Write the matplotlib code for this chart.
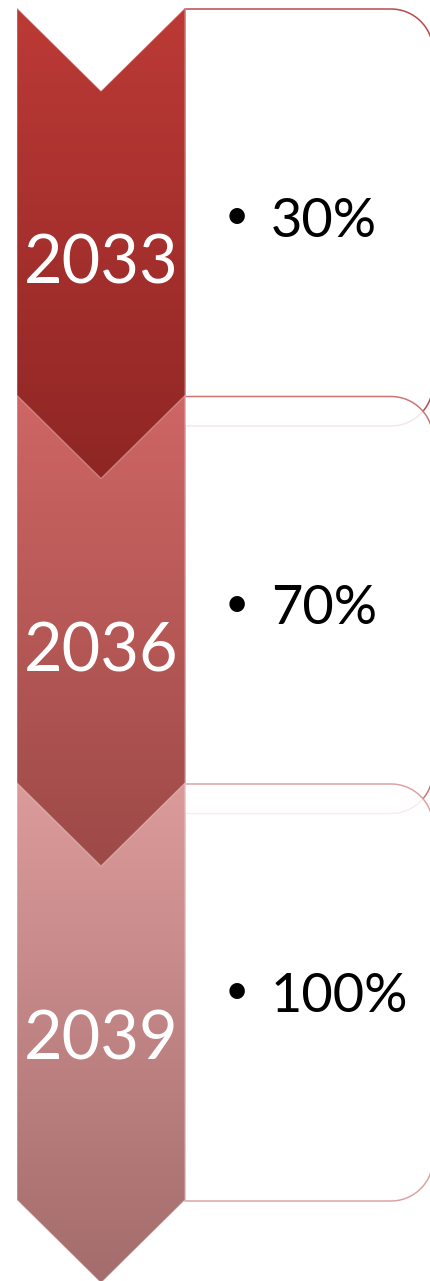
import numpy as np
import matplotlib.pyplot as plt
from matplotlib.patches import Polygon

years = ['2033', '2036', '2039']
shares = ['30%', '70%', '100%']
top_colors = ['#BC3A36', '#CE6664', '#DC9B9B']
bottom_colors = ['#8C2523', '#9A4846', '#A46C6C']
box_edges = ['#B8494A', '#CB7674', '#DBA3A3']

plt.rcParams['font.family'] = ['Lato', 'DejaVu Sans']

W, H = 431, 1281
step = 387.5
x0, x1 = 17, 185
side = 417
tip = 83
rx = 433
r = 42


def hex_rgb(c):
	c = c.lstrip('#')
	return np.array([int(c[i:i + 2], 16) for i in (0, 2, 4)]) / 255


def box_path(yt, yb):
	pts = [(x1, yt), (rx - r, yt)]
	a = np.linspace(-np.pi / 2, 0, 24)
	pts += list(zip(rx - r + r * np.cos(a), yt + r + r * np.sin(a)))
	a = np.linspace(0, np.pi / 2, 24)
	pts += list(zip(rx - r + r * np.cos(a), yb - r + r * np.sin(a)))
	pts += [(x1, yb)]
	return pts


fig = plt.figure(figsize = (W / 100, H / 100), dpi = 100)
ax = fig.add_axes([0, 0, 1, 1])
ax.set_xlim(0, W)
ax.set_ylim(H, 0)
ax.axis('off')

# boxes first, next one drawn over the previous
for i in range(len(years)):
	yt = 8 + i * step + 1
	box = Polygon(box_path(yt, yt + side), closed = True, facecolor = (1, 1, 1, 0.87),
				edgecolor = box_edges[i], linewidth = 1.1, zorder = 1 + i)
	ax.add_patch(box)
	ax.text(237, yt + 208, '•', ha = 'center', va = 'center', fontsize = 30, color = 'black', zorder = 10)
	ax.text(271, yt + 208 + 20, shares[i], ha = 'left', va = 'baseline', fontsize = 39, color = 'black', zorder = 10)

# chevrons with vertical gradient
for i in range(len(years)):
	y0 = 8 + i * step
	xm = (x0 + x1) / 2
	pts = [(x0, y0), (xm, y0 + tip), (x1, y0), (x1, y0 + side), (xm, y0 + side + tip), (x0, y0 + side)]
	t = np.linspace(0, 1, 256)[:, None]
	grad = (1 - t) * hex_rgb(top_colors[i]) + t * hex_rgb(bottom_colors[i])
	img = ax.imshow(grad[:, None, :], extent = (x0, x1, y0 + side + tip, y0), origin = 'upper',
					aspect = 'auto', zorder = 5 + i, interpolation = 'bilinear')
	clip = Polygon(pts, closed = True, facecolor = 'none', edgecolor = 'none', transform = ax.transData)
	ax.add_patch(clip)
	img.set_clip_path(clip)
	ax.add_patch(Polygon(pts, closed = True, facecolor = 'none', edgecolor = (1, 1, 1, 0.3),
						linewidth = 1.0, zorder = 5.5 + i))
	ax.text(xm, y0 + 250 + 26, years[i], ha = 'center', va = 'baseline', fontsize = 48, color = 'white', zorder = 10)

ax.set_xlim(0, W)
ax.set_ylim(H, 0)
fig.savefig('out.png', dpi = 100)
